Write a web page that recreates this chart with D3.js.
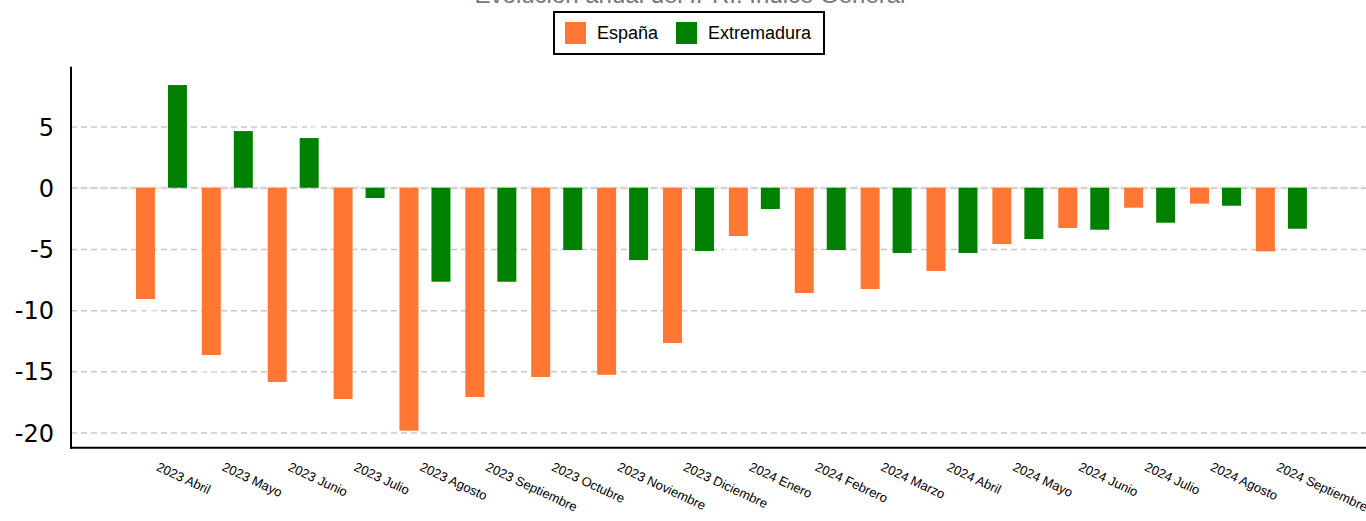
<!DOCTYPE html>
<html>
<head>
<meta charset="utf-8">
<script src="https://cdn.jsdelivr.net/npm/d3@7"></script>
<style>
  html, body { margin: 0; padding: 0; background: #fff; }
  svg { display: block; }
</style>
</head>
<body>
<svg id="chart" width="1366" height="521"></svg>
<script>
const title = "Evolución anual del IPRI: Índice General";
const categories = ["2023 Abril","2023 Mayo","2023 Junio","2023 Julio","2023 Agosto","2023 Septiembre","2023 Octubre","2023 Noviembre","2023 Diciembre","2024 Enero","2024 Febrero","2024 Marzo","2024 Abril","2024 Mayo","2024 Junio","2024 Julio","2024 Agosto","2024 Septiembre"];
const seriesNames = ["España", "Extremadura"];
const espana = [-9.09, -13.67, -15.87, -17.26, -19.85, -17.10, -15.46, -15.28, -12.69, -3.95, -8.60, -8.28, -6.80, -4.60, -3.29, -1.63, -1.30, -5.20];
const extremadura = [8.39, 4.63, 4.06, -0.84, -7.68, -7.68, -5.09, -5.91, -5.17, -1.74, -5.09, -5.33, -5.33, -4.19, -3.43, -2.86, -1.47, -3.35];
const yTicks = [-20, -15, -10, -5, 0, 5];
const colors = ["#ff7733", "#008000"];

const svg = d3.select("#chart");
const plotLeft = 71, plotRight = 1366, plotTop = 66.7, plotBottom = 447.7;

const y = d3.scaleLinear().domain([-21.24, 9.89]).range([plotBottom, plotTop]);
const step = 65.88;
const x0 = d3.scaleBand().domain(categories).range([128.5, 128.5 + categories.length * step]).paddingInner(0).paddingOuter(0);
const x1 = d3.scaleBand().domain(seriesNames).range([7.44, 58.44]).paddingInner(13 / 32).paddingOuter(0);

// title (cropped at the top, as in the reference)
svg.append("text")
  .attr("x", 690).attr("y", 3)
  .attr("text-anchor", "middle")
  .attr("font-family", "Liberation Sans, Arial, sans-serif")
  .attr("font-size", 24)
  .attr("fill", "#777")
  .text(title);

// zero line (light solid)
svg.append("line")
  .attr("x1", plotLeft).attr("x2", plotRight)
  .attr("y1", y(0)).attr("y2", y(0))
  .attr("stroke", "#eeeeee").attr("stroke-width", 3);

// gridlines
const grid = d3.axisLeft(y).tickValues(yTicks).tickSize(-(plotRight - plotLeft)).tickFormat("");
svg.append("g").attr("transform", `translate(${plotLeft},0)`).call(grid)
  .call(g => g.select(".domain").remove())
  .call(g => g.selectAll("line").attr("stroke", "#c8c8c8").attr("stroke-width", 1.5).attr("stroke-dasharray", "6,4"));

// y tick labels
const yAxis = d3.axisLeft(y).tickValues(yTicks).tickSize(0).tickPadding(17).tickFormat(d => String(d));
svg.append("g").attr("transform", `translate(${plotLeft},0)`).call(yAxis)
  .call(g => g.select(".domain").remove())
  .call(g => g.selectAll("text")
    .attr("font-family", "DejaVu Sans, sans-serif")
    .attr("font-size", 24)
    .attr("fill", "#000")
    .attr("dy", "0.36em"));

// bars
const data = categories.map((c, i) => ({ cat: c, vals: [espana[i], extremadura[i]] }));
const groups = svg.append("g").selectAll("g").data(data).join("g")
  .attr("transform", d => `translate(${x0(d.cat)},0)`);
groups.selectAll("rect").data(d => d.vals.map((v, k) => ({ s: seriesNames[k], v, k })))
  .join("rect")
  .attr("x", d => x1(d.s))
  .attr("width", x1.bandwidth())
  .attr("y", d => y(Math.max(0, d.v)))
  .attr("height", d => Math.abs(y(d.v) - y(0)))
  .attr("fill", d => colors[d.k]);

// white value labels (invisible on white, as in the reference)
groups.selectAll("text.val").data(d => d.vals.map((v, k) => ({ s: seriesNames[k], v, k })))
  .join("text").attr("class", "val")
  .attr("x", d => x1(d.s) + x1.bandwidth() / 2)
  .attr("y", d => d.v < 0 ? y(d.v) + 17 : y(d.v) - 6)
  .attr("text-anchor", "middle")
  .attr("font-family", "Liberation Sans, Arial, sans-serif")
  .attr("font-size", 13)
  .attr("fill", "#fff")
  .text(d => d.v.toFixed(2));

// x axis labels
svg.append("g").selectAll("text").data(categories).join("text")
  .attr("transform", d => `translate(${x0(d) + x0.bandwidth() / 2 - 6},470) rotate(25)`)
  .attr("text-anchor", "start")
  .attr("font-family", "Liberation Sans, Arial, sans-serif")
  .attr("font-size", 13)
  .attr("fill", "#000")
  .text(d => d);

// axis lines
svg.append("line").attr("x1", plotLeft).attr("x2", plotLeft).attr("y1", plotTop).attr("y2", plotBottom + 1)
  .attr("stroke", "#000").attr("stroke-width", 2);
svg.append("line").attr("x1", plotLeft - 1).attr("x2", plotRight).attr("y1", plotBottom).attr("y2", plotBottom)
  .attr("stroke", "#000").attr("stroke-width", 2);

// legend
const lg = svg.append("g");
lg.append("rect").attr("x", 554).attr("y", 12).attr("width", 270).attr("height", 42)
  .attr("fill", "#fff").attr("stroke", "#000").attr("stroke-width", 2);
const legendItems = [{ x: 565, tx: 597 }, { x: 676, tx: 708 }];
seriesNames.forEach((s, i) => {
  lg.append("rect").attr("x", legendItems[i].x).attr("y", 22).attr("width", 21).attr("height", 22).attr("fill", colors[i]);
  lg.append("text").attr("x", legendItems[i].tx).attr("y", 39)
    .attr("font-family", "Liberation Sans, Arial, sans-serif").attr("font-size", 18).attr("fill", "#000")
    .text(s);
});
</script>
</body>
</html>
